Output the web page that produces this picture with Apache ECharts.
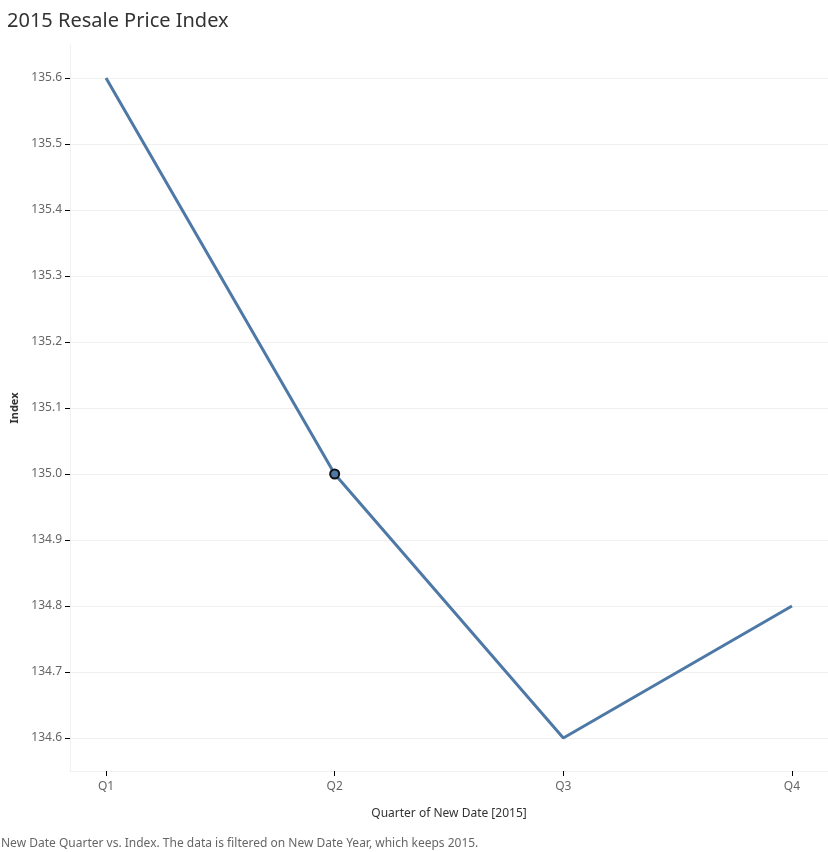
<!DOCTYPE html>
<html><head><meta charset="utf-8">
<script src="https://cdn.jsdelivr.net/npm/echarts@6/dist/echarts.min.js"></script>
<style>html,body{margin:0;padding:0;background:#fff}#c{width:828px;height:852px}</style>
</head><body><div id="c"></div>
<script>
const categories = ['Q1', 'Q2', 'Q3', 'Q4'];
const indexValues = [135.6, 135.0, 134.6, 134.8];
const yTicks = [134.6, 134.7, 134.8, 134.9, 135.0, 135.1, 135.2, 135.3, 135.4, 135.5, 135.6];
const highlighted = 'Q2';

const xPositions = categories.map((c, i) => i);
const font = '"Noto Sans", "Open Sans", sans-serif';
const chart = echarts.init(document.getElementById('c'));
chart.setOption({
  animation: false,
  title: {
    text: '2015 Resale Price Index', left: 2, top: 6,
    textStyle: { fontFamily: font, fontSize: 20, fontWeight: 'normal', color: '#333' }
  },
  graphic: [{
    type: 'text', left: 1, bottom: 2,
    style: { text: 'New Date Quarter vs. Index. The data is filtered on New Date Year, which keeps 2015.',
      fontFamily: font, fontSize: 12, fill: '#666' }
  }],
  grid: { left: 70, right: 0, top: 45, bottom: 81, show: false },
  xAxis: {
    type: 'value', min: -0.1575, max: 3.1575,
    name: 'Quarter of New Date [2015]', nameLocation: 'middle', nameGap: 37,
    nameTextStyle: { fontFamily: font, fontSize: 12, color: '#333' },
    axisLine: { show: true, onZero: false, lineStyle: { color: '#f0f0f0', width: 1 } },
    axisTick: { show: true, customValues: xPositions, length: 5, lineStyle: { color: '#000' } },
    axisLabel: { customValues: xPositions, formatter: v => categories[Math.round(v)], margin: 10,
      fontFamily: font, fontSize: 12, color: '#666' },
    splitLine: { show: false }
  },
  yAxis: {
    type: 'value', min: 134.55, max: 135.65,
    name: 'Index', nameLocation: 'middle', nameGap: 50, nameRotate: 90,
    nameTextStyle: { fontFamily: font, fontSize: 11, color: '#333', fontWeight: 'bold' },
    axisLine: { show: true, onZero: false, lineStyle: { color: '#f0f0f0', width: 1 } },
    axisTick: { show: true, customValues: yTicks, length: 5, lineStyle: { color: '#000' } },
    axisLabel: { customValues: yTicks, formatter: v => v.toFixed(1), margin: 8,
      fontFamily: font, fontSize: 12, color: '#666' },
    splitLine: { show: true, lineStyle: { color: '#f0f0f0', width: 1 } }
  },
  series: [{
    type: 'line',
    data: indexValues.map((v, i) => ({
      value: [i, v],
      symbol: categories[i] === highlighted ? 'circle' : 'none',
      symbolSize: 9,
      itemStyle: { color: '#4e79a7', borderColor: '#111', borderWidth: 2 }
    })),
    showSymbol: true,
    lineStyle: { color: '#4e79a7', width: 3 },
    itemStyle: { color: '#4e79a7' }
  }]
});
</script></body></html>
